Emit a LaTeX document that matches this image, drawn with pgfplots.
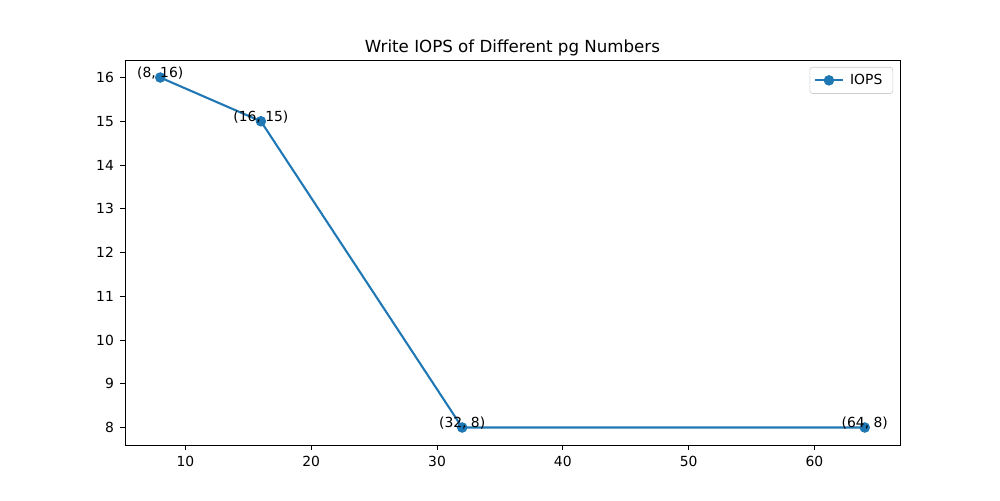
\documentclass[border=0pt]{standalone}
\usepackage{fontspec}
\setmainfont{DejaVu Sans}
\usepackage{pgfplots}
\usepackage{pgfplotstable}
\pgfplotsset{compat=1.18}
\definecolor{mplblue}{HTML}{1F77B4}

% 1 px = 0.72 pt (figure 10in x 5in at 100 dpi)
\pgfplotstableread[col sep=semicolon]{
pg;iops;label
8;16;(8, 16)
16;15;(16, 15)
32;8;(32, 8)
64;8;(64, 8)
}\iopsdata

\begin{document}
\begin{tikzpicture}
\useasboundingbox (-90pt,-39.6pt) rectangle (630pt,320.4pt);
\begin{axis}[
  at={(0,0)}, anchor=south west,
  scale only axis,
  width=558pt, height=277.2pt,
  xmin=5.2, xmax=66.8,
  ymin=7.6, ymax=16.4,
  xtick={10,20,30,40,50,60},
  ytick={8,9,10,11,12,13,14,15,16},
  tick align=outside,
  major tick length=3.5pt,
  every tick/.style={black, line width=0.6pt},
  axis line style={line width=0.6pt},
  xtick pos=bottom, ytick pos=left,
  /pgf/number format/assume math mode=true,
  tick label style={font=\fontsize{10}{12}\selectfont},
  xticklabel style={yshift=-1pt},
  yticklabel style={xshift=-1pt},
  title={Write IOPS of Different pg Numbers},
  title style={at={(0.5,1)}, anchor=south, yshift=-3pt, inner sep=0pt,
    font=\fontsize{12}{14}\selectfont},
  legend style={at={(1,1)}, anchor=north east, xshift=-5pt, yshift=-5pt,
    draw=black!20, rounded corners=2pt, font=\fontsize{10}{12}\selectfont,
    inner xsep=3pt, inner ysep=3pt, row sep=0pt,
    nodes={inner xsep=4.5pt}},
  legend cell align=left,
  legend image code/.code={
    \draw[mark repeat=2, mark phase=2, #1]
      plot coordinates {(0pt,0pt) (10pt,0pt) (20pt,0pt)};},
]
\addplot[mplblue, line width=1.5pt, mark=*, mark size=3pt,
  mark options={solid, fill=mplblue, draw=mplblue}]
  table[x=pg, y=iops] {\iopsdata};
\addlegendentry{IOPS}
\addplot[draw=none, mark=none, forget plot,
  nodes near coords, point meta=explicit symbolic,
  every node near coord/.append style={anchor=base, inner sep=0pt,
    font=\fontsize{10}{12}\selectfont, black}]
  table[x=pg, y=iops, meta=label] {\iopsdata};
\end{axis}
\end{tikzpicture}
\end{document}
